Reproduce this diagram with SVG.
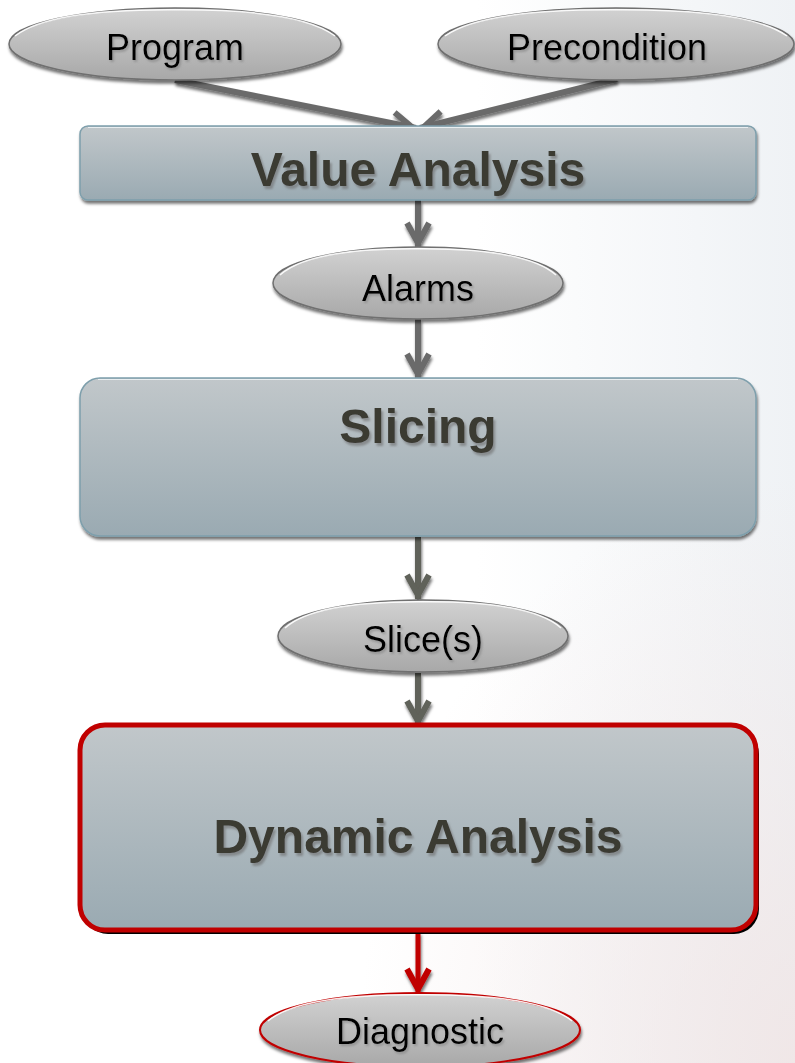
<svg xmlns="http://www.w3.org/2000/svg" width="795" height="1063" viewBox="0 0 795 1063">
<defs>
<linearGradient id="bg" x1="0" y1="0" x2="1" y2="0">
<stop offset="0" stop-color="#ffffff"/>
<stop offset="0.6" stop-color="#ffffff"/>
<stop offset="1" stop-color="#eff2f5"/>
</linearGradient>
<radialGradient id="bgpink" cx="1" cy="1" r="0.55">
<stop offset="0" stop-color="#f0e4e4" stop-opacity="0.8"/>
<stop offset="1" stop-color="#f0e4e4" stop-opacity="0"/>
</radialGradient>
<linearGradient id="ellFill" x1="0" y1="0" x2="0" y2="1">
<stop offset="0" stop-color="#d2d2d2"/>
<stop offset="1" stop-color="#a8a8a8"/>
</linearGradient>
<linearGradient id="boxFill" x1="0" y1="0" x2="0" y2="1">
<stop offset="0" stop-color="#c1c7ca"/>
<stop offset="1" stop-color="#9aaab2"/>
</linearGradient>
<filter id="shadow" x="-10%" y="-20%" width="120%" height="150%">
<feDropShadow dx="1" dy="3" stdDeviation="1.5" flood-color="#000" flood-opacity="0.55"/>
</filter>
<filter id="tshadow" x="-10%" y="-20%" width="120%" height="150%">
<feDropShadow dx="2" dy="3" stdDeviation="0.8" flood-color="#6c6c6c" flood-opacity="0.6"/>
</filter>
<filter id="tshadowS" x="-10%" y="-20%" width="120%" height="150%">
<feDropShadow dx="1.5" dy="2" stdDeviation="0.8" flood-color="#777" flood-opacity="0.55"/>
</filter>
<marker id="ahGray" markerUnits="userSpaceOnUse" viewBox="-30 -20 40 40" markerWidth="40" markerHeight="40" refX="0" refY="0" orient="auto" overflow="visible">
<path d="M-24,-11 L-4,0 L-24,11" fill="none" stroke="#6b6b6b" stroke-width="6" stroke-linejoin="miter"/>
</marker>
<marker id="ahOlive" markerUnits="userSpaceOnUse" viewBox="-30 -20 40 40" markerWidth="40" markerHeight="40" refX="0" refY="0" orient="auto" overflow="visible">
<path d="M-24,-11 L-4,0 L-24,11" fill="none" stroke="#60625a" stroke-width="6" stroke-linejoin="miter"/>
</marker>
<marker id="ahRed" markerUnits="userSpaceOnUse" viewBox="-30 -20 40 40" markerWidth="40" markerHeight="40" refX="0" refY="0" orient="auto" overflow="visible">
<path d="M-24,-11 L-4,0 L-24,11" fill="none" stroke="#c00000" stroke-width="6" stroke-linejoin="miter"/>
</marker>
</defs>
<style>
.ell{fill:url(#ellFill);stroke:#6f6f6f;stroke-width:1.5;filter:url(#shadow)}
.hl{fill:none;stroke:#ffffff;stroke-width:1.5;opacity:0.9}
.box{fill:url(#boxFill);stroke:#7e9fac;stroke-width:1.5;filter:url(#shadow)}
.etxt{font-family:"Liberation Sans",Arial,sans-serif;font-size:36px;fill:#000;text-anchor:middle;filter:url(#tshadowS)}
.btxt{font-family:"Liberation Sans",Arial,sans-serif;font-size:48px;font-weight:bold;fill:#3b3a33;text-anchor:middle;filter:url(#tshadow)}
.cg{fill:none;stroke:#6b6b6b;stroke-width:6;marker-end:url(#ahGray)}
.co{fill:none;stroke:#60625a;stroke-width:6;marker-end:url(#ahOlive)}
.cr{fill:none;stroke:#c00000;stroke-width:5;marker-end:url(#ahRed)}
</style>
<rect x="0" y="0" width="795" height="1063" fill="url(#bg)"/>
<rect x="0" y="0" width="795" height="1063" fill="url(#bgpink)"/>

<g id="connectors" filter="url(#shadow)">
<path class="cg" d="M175,80 L416,128"/>
<path class="cg" d="M617,79 L420,128"/>
<path class="cg" d="M418,200 L418,247"/>
<path class="cg" d="M418,319 L418,378"/>
<path class="co" d="M418,537 L418,599"/>
<path class="co" d="M418,673 L418,725"/>
<path class="cr" d="M418,932 L418,993"/>
</g>

<g id="program">
<ellipse class="ell" cx="175" cy="44" rx="166" ry="36"/>
<path class="hl" d="M15,36 Q50,9 175,9.8 Q300,9 335,36"/>
<text class="etxt" x="175" y="60">Program</text>
</g>

<g id="precondition">
<ellipse class="ell" cx="616" cy="44" rx="178" ry="36"/>
<path class="hl" d="M445,36 Q482,9 616,9.8 Q750,9 787,36"/>
<text class="etxt" x="607" y="60">Precondition</text>
</g>

<g id="value-analysis">
<rect class="box" x="80" y="126" width="676" height="74" rx="8"/>
<line x1="88" y1="127.5" x2="748" y2="127.5" stroke="#e9eef0" stroke-width="1.2"/>
<text class="btxt" x="418" y="186">Value Analysis</text>
</g>

<g id="alarms">
<ellipse class="ell" cx="418" cy="283" rx="145" ry="36"/>
<path class="hl" d="M280,275 Q310,248 418,248.8 Q526,248 556,275"/>
<text class="etxt" x="418" y="301">Alarms</text>
</g>

<g id="slicing">
<rect class="box" x="80" y="378" width="676" height="158" rx="20"/>
<line x1="98" y1="379.5" x2="738" y2="379.5" stroke="#e9eef0" stroke-width="1.2"/>
<text class="btxt" x="418" y="443">Slicing</text>
</g>

<g id="slices">
<ellipse class="ell" cx="423" cy="636" rx="145" ry="36"/>
<path class="hl" d="M285,628 Q315,601 423,601.8 Q531,601 561,628"/>
<text class="etxt" x="423" y="652">Slice(s)</text>
</g>

<g id="dynamic-analysis">
<rect x="83" y="729" width="676" height="205" rx="25" fill="#000"/>
<rect x="80" y="725" width="676" height="205" rx="25" fill="url(#boxFill)" stroke="#c00000" stroke-width="5"/>
<text class="btxt" x="418" y="853">Dynamic Analysis</text>
</g>

<g id="diagnostic">
<ellipse cx="420" cy="1030" rx="160" ry="37" fill="url(#ellFill)" stroke="#c00000" stroke-width="2" filter="url(#shadow)"/>
<path class="hl" d="M268,1021 Q300,994 420,994.8 Q540,994 572,1021"/>
<text class="etxt" x="420" y="1044">Diagnostic</text>
</g>
</svg>
